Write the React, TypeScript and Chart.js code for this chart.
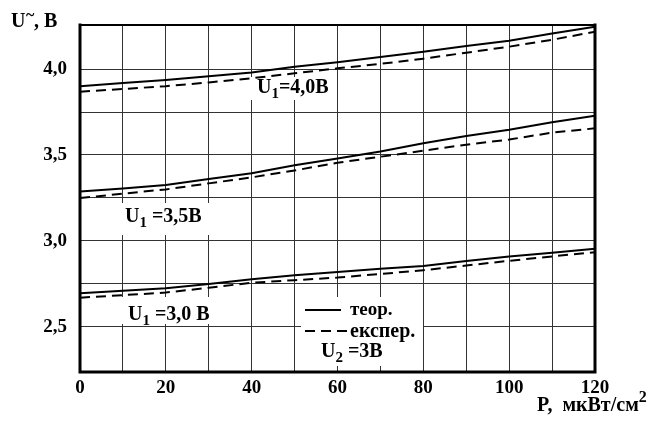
import React, { useEffect, useRef } from "react";
import { Chart, registerables } from "chart.js";
Chart.register(...registerables);

// Power density P, мкВт/см²
const P = [0, 10, 20, 30, 40, 50, 60, 70, 80, 90, 100, 110, 120];
// U1 = 4,0 В
const U40_theory = [3.9, 3.918, 3.936, 3.958, 3.98, 4.013, 4.04, 4.07, 4.1, 4.134, 4.165, 4.207, 4.246];
const U40_exper = [3.868, 3.884, 3.9, 3.922, 3.946, 3.975, 4.004, 4.03, 4.06, 4.095, 4.13, 4.17, 4.217];
// U1 = 3,5 В
const U35_theory = [3.287, 3.305, 3.325, 3.36, 3.394, 3.44, 3.48, 3.52, 3.568, 3.61, 3.647, 3.69, 3.728];
const U35_exper = [3.25, 3.275, 3.3, 3.335, 3.37, 3.41, 3.455, 3.49, 3.525, 3.56, 3.59, 3.63, 3.655];
// U1 = 3,0 В
const U30_theory = [2.696, 2.71, 2.725, 2.75, 2.777, 2.8, 2.82, 2.838, 2.855, 2.883, 2.91, 2.932, 2.955];
const U30_exper = [2.67, 2.685, 2.7, 2.728, 2.757, 2.772, 2.787, 2.808, 2.83, 2.857, 2.885, 2.91, 2.935];

const yGridValues = [2.5, 2.75, 3.0, 3.25, 3.5, 3.75, 4.0];
const yLabelValues = [2.5, 3.0, 3.5, 4.0];
const xLabelValues = [0, 20, 40, 60, 80, 100, 120];

const FONT = '"Liberation Serif", "Times New Roman", serif';

type Part = { t: string; size: number; dy?: number };

function drawRich(ctx: CanvasRenderingContext2D, x: number, baseline: number, parts: Part[]) {
  let cx = x;
  ctx.textBaseline = "alphabetic";
  ctx.textAlign = "left";
  ctx.fillStyle = "#000";
  for (const p of parts) {
    ctx.font = `bold ${p.size}px ${FONT}`;
    ctx.fillText(p.t, cx, baseline + (p.dy || 0));
    cx += ctx.measureText(p.t).width;
  }
}

const series = (ys: number[]) => P.map((x, i) => ({ x, y: ys[i] }));

export default function App() {
  const ref = useRef<HTMLCanvasElement>(null);
  useEffect(() => {
    const canvas = ref.current!;
    const solid = (ys: number[]) => ({
      data: series(ys),
      borderColor: "#000",
      borderWidth: 2,
      pointRadius: 0,
      tension: 0,
      fill: false,
    });
    const dashed = (ys: number[]) => ({ ...solid(ys), borderDash: [10, 6] });

    const annotations = {
      id: "annotations",
      beforeDatasetsDraw(chart: any) {
        const ctx = chart.ctx as CanvasRenderingContext2D;
        ctx.save();
        ctx.fillStyle = "#fff";
        ctx.fillRect(251, 77, 86, 23);
        ctx.fillRect(119, 203, 92, 32);
        ctx.fillRect(121, 297, 90, 27);
        ctx.fillRect(301, 297, 122, 69);
        ctx.restore();
      },
      afterDatasetsDraw(chart: any) {
        const ctx = chart.ctx as CanvasRenderingContext2D;
        ctx.save();
        drawRich(ctx, 257, 93, [
          { t: "U", size: 20 },
          { t: "1", size: 15, dy: 5 },
          { t: "=4,0В", size: 20 },
        ]);
        drawRich(ctx, 125, 222, [
          { t: "U", size: 20 },
          { t: "1", size: 15, dy: 5 },
          { t: " =3,5В", size: 20 },
        ]);
        drawRich(ctx, 128, 320, [
          { t: "U", size: 20 },
          { t: "1", size: 15, dy: 5 },
          { t: " =3,0 В", size: 20 },
        ]);
        // legend
        ctx.strokeStyle = "#000";
        ctx.lineWidth = 2;
        ctx.beginPath();
        ctx.moveTo(305, 310);
        ctx.lineTo(341, 310);
        ctx.stroke();
        ctx.setLineDash([10, 6]);
        ctx.beginPath();
        ctx.moveTo(305, 331);
        ctx.lineTo(347, 331);
        ctx.stroke();
        ctx.setLineDash([]);
        drawRich(ctx, 350, 315, [{ t: "теор.", size: 19 }]);
        drawRich(ctx, 350, 337, [{ t: "експер.", size: 20 }]);
        drawRich(ctx, 321, 357, [
          { t: "U", size: 20 },
          { t: "2", size: 15, dy: 5 },
          { t: " =3В", size: 20 },
        ]);
        ctx.restore();
      },
      afterDraw(chart: any) {
        const ctx = chart.ctx as CanvasRenderingContext2D;
        const a = chart.chartArea;
        ctx.save();
        ctx.strokeStyle = "#000";
        ctx.lineCap = "square";
        ctx.lineWidth = 3;
        ctx.beginPath();
        ctx.moveTo(a.left, a.top);
        ctx.lineTo(a.left, a.bottom);
        ctx.lineTo(a.right, a.bottom);
        ctx.lineTo(a.right, a.top);
        ctx.stroke();
        ctx.lineWidth = 2;
        ctx.beginPath();
        ctx.moveTo(a.left, a.top);
        ctx.lineTo(a.right, a.top);
        ctx.stroke();
        // axis titles
        drawRich(ctx, 11, 27, [{ t: "U", size: 20 }]);
        drawRich(ctx, 26, 20, [{ t: "~", size: 16 }]);
        drawRich(ctx, 34, 27, [{ t: ", В", size: 20 }]);
        drawRich(ctx, 537, 411, [
          { t: "P,  мкВт/см", size: 20 },
          { t: "2", size: 16, dy: -9 },
        ]);
        ctx.restore();
      },
    };

    const chart = new Chart(canvas, {
      type: "line",
      data: {
        datasets: [
          solid(U40_theory),
          dashed(U40_exper),
          solid(U35_theory),
          dashed(U35_exper),
          solid(U30_theory),
          dashed(U30_exper),
        ],
      },
      options: {
        animation: false,
        responsive: false,
        maintainAspectRatio: false,
        layout: { padding: { left: 0, right: 67, top: 25, bottom: 0 } },
        plugins: { legend: { display: false }, tooltip: { enabled: false } },
        scales: {
          x: {
            type: "linear",
            min: 0,
            max: 120,
            border: { display: false },
            grid: { color: "#333", lineWidth: 1, drawTicks: false },
            ticks: {
              stepSize: 10,
              autoSkip: false,
              maxRotation: 0,
              padding: 5,
              color: "#000",
              font: { family: FONT, size: 19, weight: "bold" },
              callback: (v: any) => (xLabelValues.includes(Number(v)) ? String(v) : ""),
            },
            afterFit: (axis: any) => {
              axis.height = 49;
            },
          },
          y: {
            type: "linear",
            min: 2.238,
            max: 4.256,
            border: { display: false },
            grid: { color: "#333", lineWidth: 1, drawTicks: false },
            afterBuildTicks: (axis: any) => {
              axis.ticks = yGridValues.map((v) => ({ value: v }));
            },
            ticks: {
              padding: 13,
              color: "#000",
              font: { family: FONT, size: 19, weight: "bold" },
              callback: (v: any) => {
                const n = Number(v);
                return yLabelValues.some((l) => Math.abs(l - n) < 1e-6) ? n.toFixed(1).replace(".", ",") : "";
              },
            },
            afterFit: (axis: any) => {
              axis.width = 80;
            },
          },
        },
      },
      plugins: [annotations],
    } as any);
    return () => chart.destroy();
  }, []);
  return (
    <div style={{ position: "fixed", left: 0, top: 0, width: 662, height: 421, background: "#fff" }}>
      <canvas ref={ref} width={662} height={421} style={{ display: "block", width: 662, height: 421 }} />
    </div>
  );
}
